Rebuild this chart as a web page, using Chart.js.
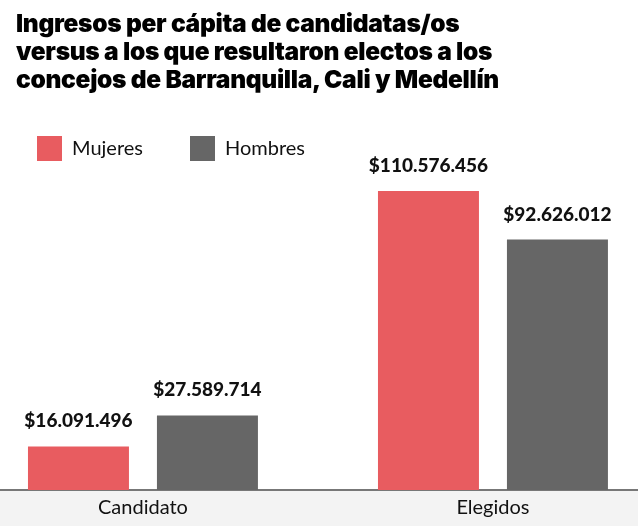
<!DOCTYPE html>
<html>
<head>
<meta charset="utf-8">
<script src="https://cdn.jsdelivr.net/npm/chart.js@4"></script>
<style>
  html, body { margin: 0; padding: 0; width: 638px; height: 526px; overflow: hidden; background: #fff; }
  #titulo {
    position: absolute; left: 16px; top: 9px; z-index: 2;
    font-family: "Inter", sans-serif; font-weight: 900; font-size: 24.5px;
    line-height: 28px; color: #000; letter-spacing: -0.3px;
  }
  #contenedor { position: absolute; left: -10px; top: 89px; width: 658px; height: 437px; }
</style>
</head>
<body>
<div id="titulo">Ingresos per cápita de candidatas/os<br>versus a los que resultaron electos a los<br>concejos de Barranquilla, Cali y Medellín</div>
<div id="contenedor"><canvas id="grafico"></canvas></div>
<script>
// Datos del gráfico
const categorias = ["Candidato", "Elegidos"];
const mujeres = [16091496, 110576456];
const hombres = [27589714, 92626012];

const rojo = "#E85C60";
const gris = "#666666";

const formato = (v) => "$" + v.toLocaleString("es-CO").replace(/,/g, ".");
const puntos = (serie) => serie.map((v, i) => ({ x: i, y: v }));

// Banda gris bajo el eje y etiquetas de valor sobre las barras
const fondoEje = {
    id: "fondoEje",
    beforeDraw(chart) {
        const { ctx, chartArea } = chart;
        ctx.save();
        ctx.fillStyle = "#f3f3f3";
        ctx.fillRect(0, chartArea.bottom, chart.width, chart.height - chartArea.bottom);
        ctx.restore();
    }
};

const etiquetas = {
    id: "etiquetas",
    afterDatasetsDraw(chart) {
        const ctx = chart.ctx;
        ctx.save();
        ctx.font = "900 19px Lato";
        ctx.fillStyle = "#111";
        ctx.textAlign = "center";
        ctx.textBaseline = "alphabetic";
        chart.data.datasets.forEach((ds, i) => {
            chart.getDatasetMeta(i).data.forEach((barra, j) => {
                ctx.fillText(formato(ds.data[j].y), barra.x, barra.y - 19);
            });
        });
        ctx.restore();
    }
};

new Chart(document.getElementById("grafico"), {
    type: "bar",
    data: {
        datasets: [
            { label: "Mujeres", data: puntos(mujeres), backgroundColor: rojo, borderColor: rojo },
            { label: "Hombres", data: puntos(hombres), backgroundColor: gris, borderColor: gris }
        ]
    },
    options: {
        responsive: true,
        maintainAspectRatio: false,
        animation: false,
        categoryPercentage: 0.737,
        barPercentage: 0.783,
        layout: { padding: 0 },
        plugins: {
            legend: {
                position: "top",
                align: "start",
                labels: {
                    boxWidth: 25,
                    boxHeight: 25,
                    padding: 47,
                    color: "#111",
                    font: { family: "Lato", size: 20 }
                }
            },
            tooltip: { enabled: false }
        },
        scales: {
            x: {
                type: "linear",
                offset: false,
                min: -0.437,
                max: 1.443,
                grid: { display: false, drawTicks: false },
                border: { color: "#777", width: 2 },
                ticks: {
                    stepSize: 1,
                    includeBounds: false,
                    color: "#111",
                    font: { family: "Lato", size: 20 },
                    padding: 6,
                    callback: (v) => categorias[v] ?? ""
                }
            },
            y: {
                display: false,
                min: 0,
                max: 118000000
            }
        }
    },
    plugins: [fondoEje, etiquetas]
});
</script>
</body>
</html>
